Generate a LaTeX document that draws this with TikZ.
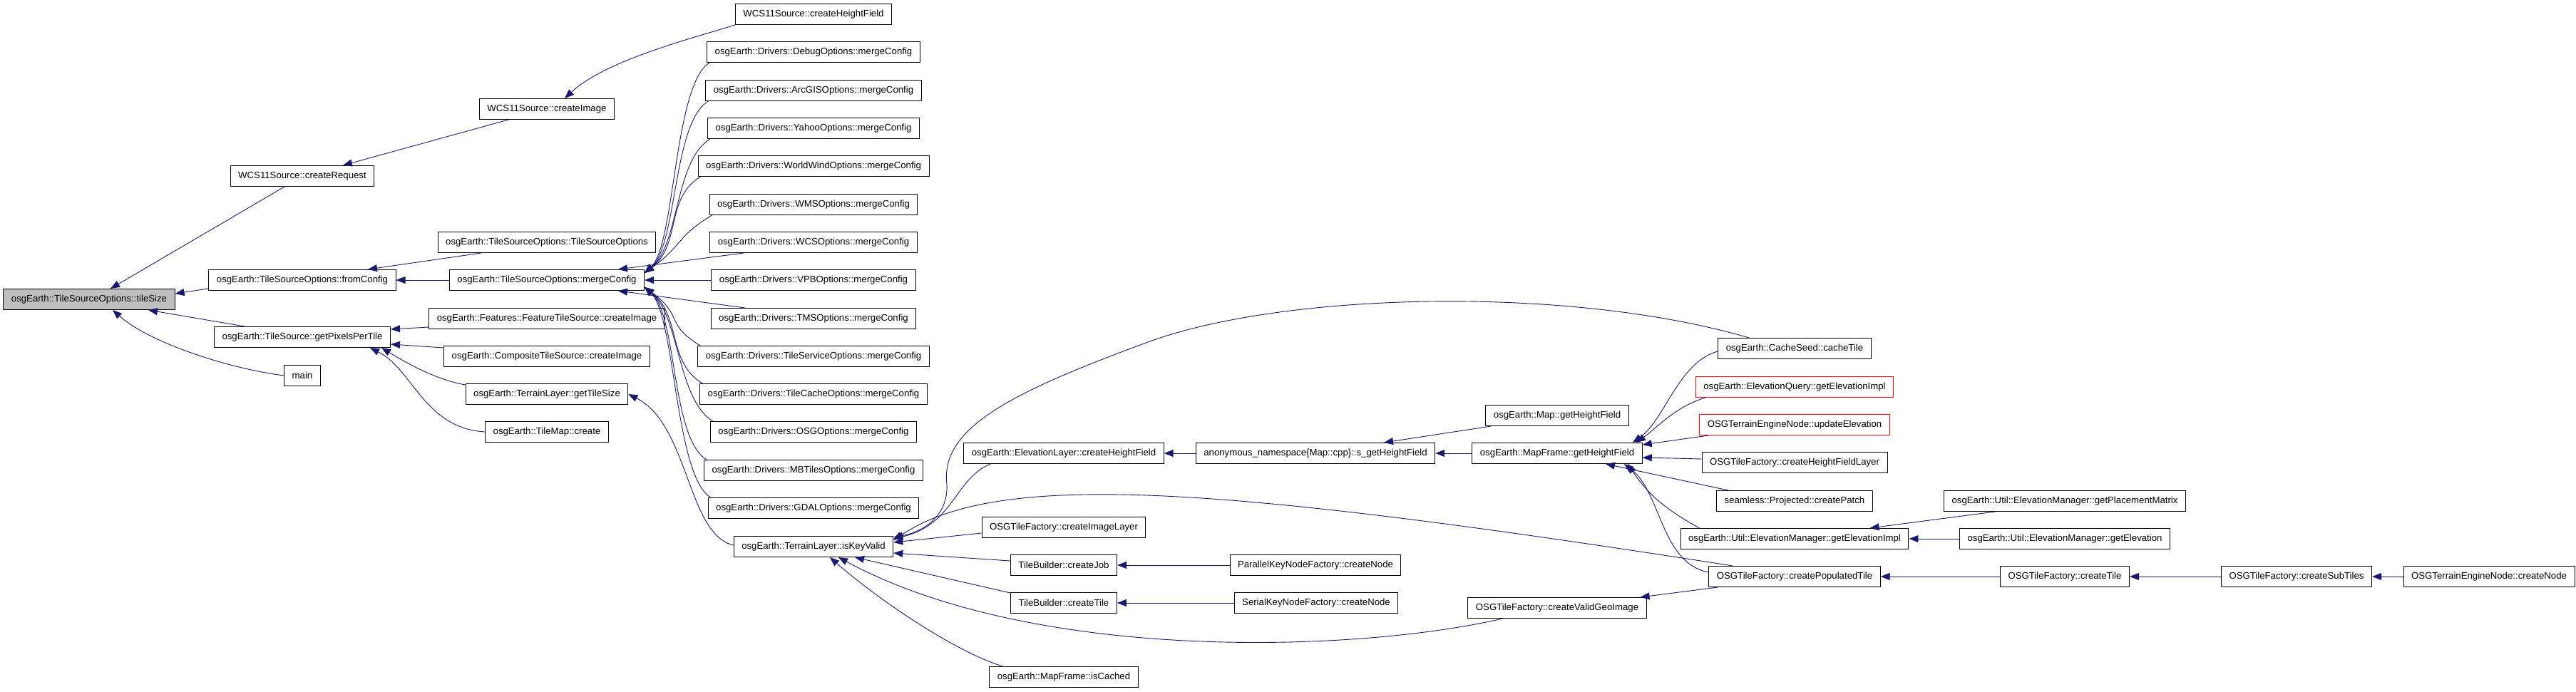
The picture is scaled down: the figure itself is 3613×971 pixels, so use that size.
\documentclass[tikz,border=0pt]{standalone}
\usepackage{fontspec}
\setmainfont{Liberation Sans}
\usepackage{xcolor}
\usepackage{tikz}
\usetikzlibrary{calc,arrows.meta}
\definecolor{callblue}{RGB}{25,25,112}
\definecolor{curgray}{RGB}{191,191,191}

\begin{document}
\begin{tikzpicture}[x=1pt,y=-1pt,>={Triangle[length=13pt,width=10pt]},
  fn/.style={draw=black,line width=1pt,fill=white,minimum height=29pt,inner xsep=11pt,inner ysep=0pt,font=\fontsize{13.2}{16}\selectfont},
  cur/.style={fn,fill=curgray},
  ext/.style={fn,draw=red},
  call/.style={->,draw=callblue,line width=0.9pt}]
  \fill[white] (0,0) rectangle (3613,971);
  \useasboundingbox (0,0) rectangle (3613,971);

  \node[cur] (tileSize) at (125,420) {osgEarth::TileSourceOptions::tileSize};
  \node[fn] (createRequest) at (424,247) {WCS11Source::createRequest};
  \node[fn] (fromConfig) at (424,393) {osgEarth::TileSourceOptions::fromConfig};
  \node[fn] (pixelsPerTile) at (424,473) {osgEarth::TileSource::getPixelsPerTile};
  \node[fn] (mainFn) at (424,527) {main};
  \node[fn] (wcsImage) at (767,153) {WCS11Source::createImage};
  \node[fn] (tsoCtor) at (767,340) {osgEarth::TileSourceOptions::TileSourceOptions};
  \node[fn] (mergeCfg) at (767,393) {osgEarth::TileSourceOptions::mergeConfig};
  \node[fn] (featImage) at (767,447) {osgEarth::Features::FeatureTileSource::createImage};
  \node[fn] (compImage) at (767,500) {osgEarth::CompositeTileSource::createImage};
  \node[fn] (layerTileSize) at (767,553) {osgEarth::TerrainLayer::getTileSize};
  \node[fn] (tileMap) at (767,606) {osgEarth::TileMap::create};
  \node[fn] (wcsHeight) at (1141,20) {WCS11Source::createHeightField};
  \foreach \drv/\y in {Debug/73,ArcGIS/127,Yahoo/180,WorldWind/233,WMS/287,WCS/340,VPB/393,TMS/447,TileService/500,TileCache/553,OSG/606,MBTiles/660,GDAL/713}
    \node[fn] (drv\drv) at (1141,\y) {osgEarth::Drivers::\drv Options::mergeConfig};
  \node[fn] (isKeyValid) at (1141,767) {osgEarth::TerrainLayer::isKeyValid};
  \node[fn] (elevLayerHF) at (1492,636) {osgEarth::ElevationLayer::createHeightField};
  \node[fn] (imageLayer) at (1492,740) {OSGTileFactory::createImageLayer};
  \node[fn] (createJob) at (1492,793) {TileBuilder::createJob};
  \node[fn] (builderTile) at (1492,846) {TileBuilder::createTile};
  \node[fn] (isCached) at (1492,950) {osgEarth::MapFrame::isCached};
  \node[fn] (anonHF) at (1845,636) {anonymous\_namespace\{Map::cpp\}::s\_getHeightField};
  \node[fn] (parallelNode) at (1845,793) {ParallelKeyNodeFactory::createNode};
  \node[fn] (serialNode) at (1846,846) {SerialKeyNodeFactory::createNode};
  \node[fn] (mapHF) at (2184,583) {osgEarth::Map::getHeightField};
  \node[fn] (frameHF) at (2184,636) {osgEarth::MapFrame::getHeightField};
  \node[fn] (validGeo) at (2184,853) {OSGTileFactory::createValidGeoImage};
  \node[fn] (cacheTile) at (2517,489) {osgEarth::CacheSeed::cacheTile};
  \node[ext] (elevQuery) at (2517,543) {osgEarth::ElevationQuery::getElevationImpl};
  \node[ext] (updateElev) at (2517,596) {OSGTerrainEngineNode::updateElevation};
  \node[fn] (hfLayer) at (2517,649) {OSGTileFactory::createHeightFieldLayer};
  \node[fn] (createPatch) at (2517,703) {seamless::Projected::createPatch};
  \node[fn] (emElevImpl) at (2517,756) {osgEarth::Util::ElevationManager::getElevationImpl};
  \node[fn] (populatedTile) at (2517,809) {OSGTileFactory::createPopulatedTile};
  \node[fn] (placement) at (2896,703) {osgEarth::Util::ElevationManager::getPlacementMatrix};
  \node[fn] (getElevation) at (2896,756) {osgEarth::Util::ElevationManager::getElevation};
  \node[fn] (factoryTile) at (2896,809) {OSGTileFactory::createTile};
  \node[fn] (subTiles) at (3221,809) {OSGTileFactory::createSubTiles};
  \node[fn] (engineNode) at (3491,809) {OSGTerrainEngineNode::createNode};

  \draw[call] ($(createRequest.south)+(-25,0)$) -- ($(tileSize.north)+(30,0)$);
  \draw[call] ($(fromConfig.west)+(0,12)$) -- ($(tileSize.east)+(0,-8)$);
  \draw[call] ($(pixelsPerTile.north)+(-81,0)$) -- ($(tileSize.south)+(83,0)$);
  \draw[call] (mainFn.west) .. controls +(-78,-10) and +(52,46) .. ($(tileSize.south)+(33,0)$);
  \draw[call] ($(wcsImage.south)+(-54,0)$) -- ($(createRequest.north)+(57,0)$);
  \draw[call] (wcsHeight.south west) .. controls +(-57,18) and +(58,-54) .. ($(wcsImage.north)+(25,0)$);
  \draw[call] ($(tsoCtor.south)+(-92,0)$) -- ($(fromConfig.north)+(92,0)$);
  \draw[call] (mergeCfg.west) -- (fromConfig.east);
  \draw[call] ($(featImage.west)+(0,12)$) -- ($(pixelsPerTile.east)+(0,-11)$);
  \draw[call] ($(compImage.west)+(0,-12)$) -- ($(pixelsPerTile.east)+(0,10)$);
  \draw[call] ($(layerTileSize.west)+(0,-13)$) .. controls +(-45,-8) and +(30,18) .. ($(pixelsPerTile.south)+(111,0)$);
  \draw[call] (tileMap.west) .. controls +(-85,-5) and +(60,30) .. ($(pixelsPerTile.south)+(95,0)$);
  \draw[call] ($(isKeyValid.west)+(0,-2)$) .. controls +(-65,-15) and +(85,43) .. (layerTileSize.east);

  \foreach \drv/\vx in {Debug/947,ArcGIS/950,Yahoo/953,WorldWind/956,WMS/959}
    \draw[call] ($(drv\drv.south west)+(4,0)$) .. controls +(-50,30) and (\vx,343) .. ($(mergeCfg.east)+(0,-10)$);
  \foreach \drv/\vx in {TileService/959,TileCache/956,OSG/953,MBTiles/950,GDAL/947}
    \draw[call] ($(drv\drv.north west)+(4,0)$) .. controls +(-50,-30) and (\vx,443) .. ($(mergeCfg.east)+(0,10)$);
  \draw[call] ($(drvWCS.south west)+(48,0)$) -- ($(mergeCfg.north)+(100,0)$);
  \draw[call] (drvVPB.west) -- (mergeCfg.east);
  \draw[call] ($(drvTMS.north west)+(48,0)$) -- ($(mergeCfg.south)+(100,0)$);

  \draw[call] ($(elevLayerHF.south west)+(38,0)$) .. controls +(-50,20) and +(85,-20) .. ($(isKeyValid.east)+(0,-11)$);
  \draw[call] ($(cacheTile.north west)+(44,0)$) .. controls (2200,400) and (1800,410) .. (1610,480)
    .. controls (1420,550) and (1318,600) .. (1328,680) .. controls (1330,720) and (1300,745) .. ($(isKeyValid.east)+(0,-13)$);
  \draw[call] ($(populatedTile.north west)+(34,0)$) .. controls (1700,680) and (1400,660) .. ($(isKeyValid.east)+(0,-9)$);
  \draw[call] ($(imageLayer.west)+(0,8)$) -- ($(isKeyValid.east)+(0,-6)$);
  \draw[call] ($(createJob.west)+(0,-6)$) -- ($(isKeyValid.east)+(0,9)$);
  \draw[call] ($(builderTile.north west)+(0,1)$) -- ($(isKeyValid.south)+(58,0)$);
  \draw[call] ($(isCached.north west)+(19,0)$) .. controls +(-68,-21) and +(66,58) .. ($(isKeyValid.south)+(23,0)$);
  \draw[call] ($(validGeo.south west)+(49,0)$) .. controls +(-208,48) and +(274,148) .. ($(isKeyValid.south)+(35,0)$);

  \draw[call] (anonHF.west) -- (elevLayerHF.east);
  \draw[call] (parallelNode.west) -- (createJob.east);
  \draw[call] (serialNode.west) -- (builderTile.east);
  \draw[call] ($(mapHF.south west)+(8,0)$) -- ($(anonHF.north)+(96,0)$);
  \draw[call] (frameHF.west) -- (anonHF.east);

  \draw[call] ($(cacheTile.west)+(0,4)$) .. controls +(-55,15) and +(45,-32) .. ($(frameHF.north)+(106,0)$);
  \draw[call] ($(elevQuery.south west)+(14,0)$) .. controls +(-43,13) and +(28,-20) .. ($(frameHF.north)+(111,0)$);
  \draw[call] ($(updateElev.south west)+(13,0)$) -- ($(frameHF.east)+(0,-12)$);
  \draw[call] ($(hfLayer.west)+(0,-5)$) -- ($(frameHF.east)+(0,6)$);
  \draw[call] ($(createPatch.north west)+(17,0)$) -- ($(frameHF.south)+(68,0)$);
  \draw[call] ($(emElevImpl.north west)+(27,0)$) .. controls +(-45,-25) and +(30,45) .. ($(frameHF.south)+(99,0)$);
  \draw[call] ($(populatedTile.west)+(0,-6)$) .. controls +(-67,-13) and +(52,40) .. ($(frameHF.south)+(94,0)$);
  \draw[call] ($(populatedTile.south west)+(13,0)$) -- ($(validGeo.north east)+(-9,0)$);

  \draw[call] ($(placement.south west)+(72,0)$) -- ($(emElevImpl.north east)+(-55,0)$);
  \draw[call] (getElevation.west) -- (emElevImpl.east);
  \draw[call] (factoryTile.west) -- (populatedTile.east);
  \draw[call] (subTiles.west) -- (factoryTile.east);
  \draw[call] (engineNode.west) -- (subTiles.east);
\end{tikzpicture}
\end{document}
